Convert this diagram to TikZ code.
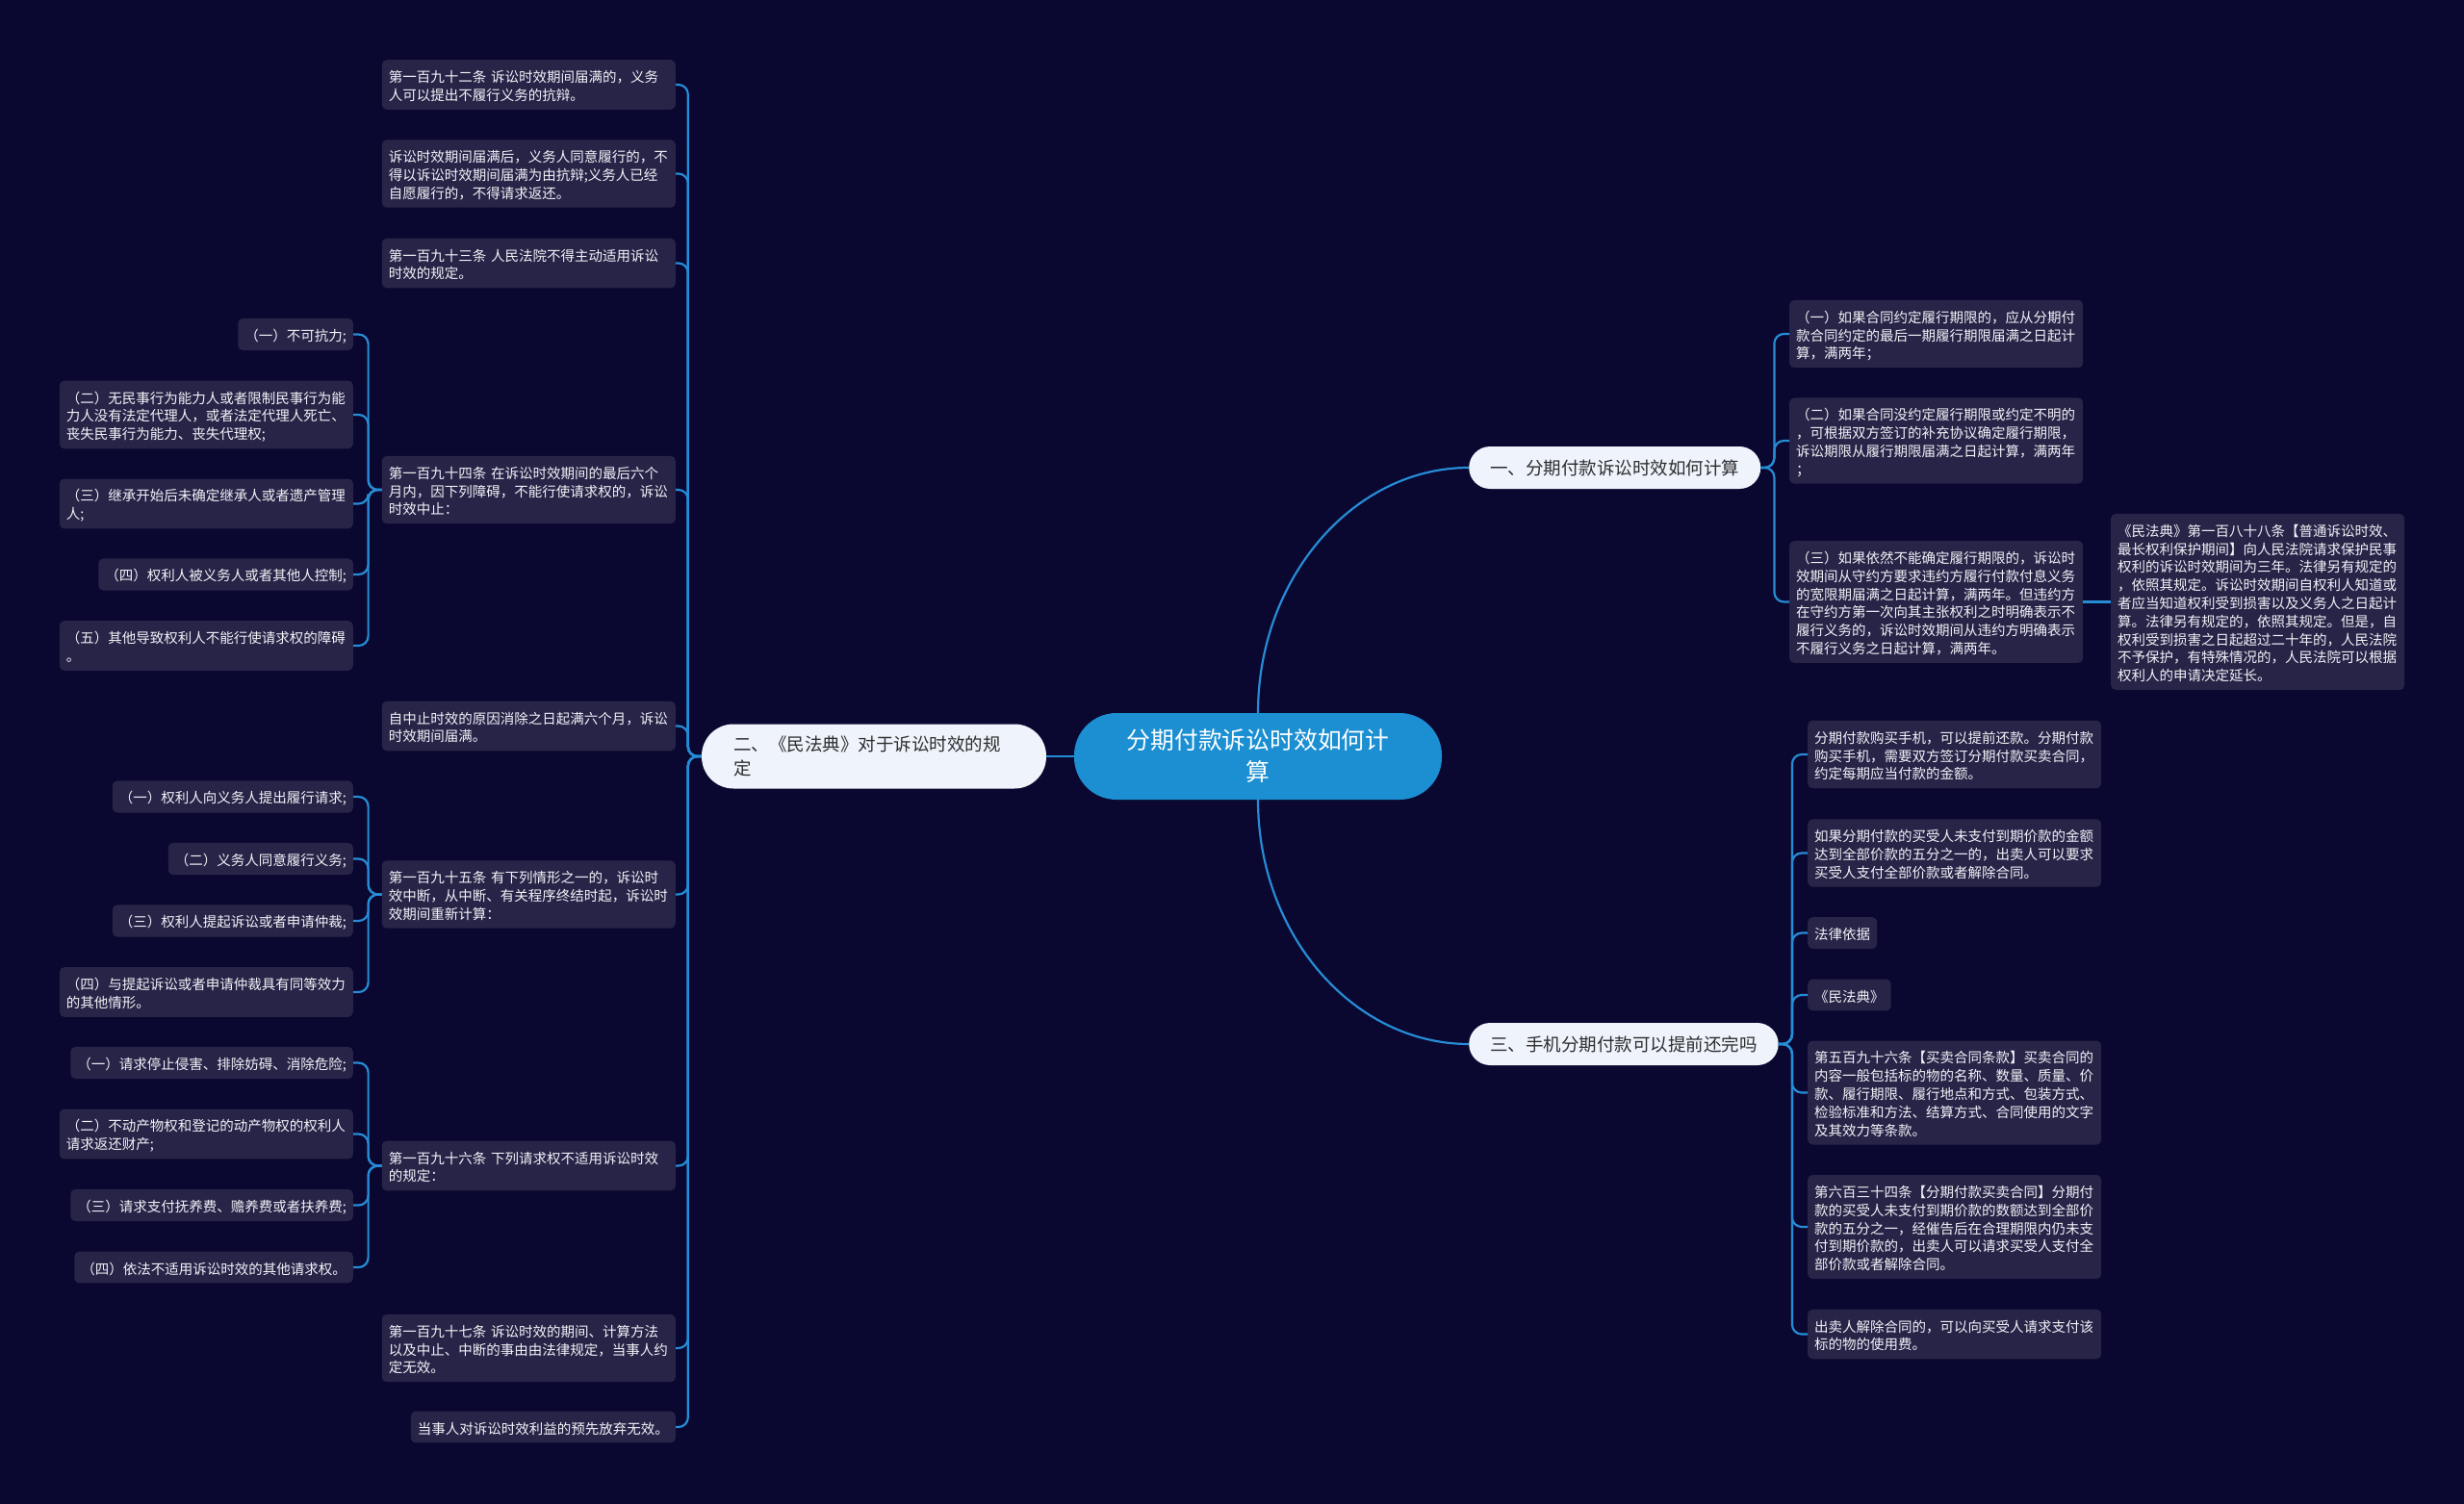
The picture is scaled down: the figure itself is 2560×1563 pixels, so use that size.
\documentclass[tikz,border=0pt]{standalone}
\usepackage{fontspec}
\setmainfont{Noto Sans CJK SC}
\definecolor{bgc}{HTML}{0A0830}
\definecolor{leafc}{HTML}{282448}
\definecolor{leaftext}{HTML}{F2F2F7}
\definecolor{linec}{HTML}{268CD6}
\definecolor{rootc}{HTML}{1B8FD2}
\definecolor{lvlc}{HTML}{EEF3FC}
\definecolor{lvltext}{HTML}{2E2E2E}
\newcommand\mytopstrut{\rule{0pt}{16.4pt}}
\newcommand\mybotstrut{\rule[-2.4pt]{0pt}{2.4pt}}
\begin{document}
\begin{tikzpicture}[x=1pt,y=-1pt,
  conn/.style={draw=linec, line width=2.2pt},
  brk/.style={conn, rounded corners=10pt},
  leaf/.style={fill=leafc, rounded corners=5pt, text=leaftext,
    font=\fontsize{14.5}{18.8}\selectfont, align=left,
    inner xsep=7pt, inner ysep=7pt,
    execute at begin node=\mytopstrut, execute at end node=\mybotstrut},
  wide/.style={leaf, text width=291pt},
  rootnode/.style={fill=rootc, rounded corners=44pt, text=white,
    font=\fontsize{24.8}{33}\selectfont, align=center,
    minimum width=382pt, minimum height=90pt, inner sep=0pt},
  lvl/.style={fill=lvlc, text=lvltext, font=\fontsize{18.5}{25}\selectfont},
  lvlright/.style={lvl, rounded corners=22pt, minimum height=44pt, inner xsep=22pt, inner ysep=0pt},
  lvlleft/.style={lvl, rounded corners=33pt, minimum height=67pt, inner xsep=33pt, inner ysep=0pt, text width=292pt, align=left}
]
\fill[bgc] (0,0) rectangle (2560,1563);
\useasboundingbox (0,0) rectangle (2560,1563);

% root and first level
\node[rootnode] (c) at (1307,786) {分期付款诉讼时效如何计\\算};
\node[lvlleft] (L) at (908,786) {二、《民法典》对于诉讼时效的规\\定};
\node[lvlright, anchor=west] (R1) at (1526,486) {一、分期付款诉讼时效如何计算};
\node[lvlright, anchor=west] (R3) at (1526,1085) {三、手机分期付款可以提前还完吗};

% left level 2
\node[wide, anchor=east] (a1) at (702,88) {第一百九十二条 诉讼时效期间届满的，义务\\人可以提出不履行义务的抗辩。};
\node[wide, anchor=east] (a2) at (702,180.5) {诉讼时效期间届满后，义务人同意履行的，不\\得以诉讼时效期间届满为由抗辩;义务人已经\\自愿履行的，不得请求返还。};
\node[wide, anchor=east] (a3) at (702,273.5) {第一百九十三条 人民法院不得主动适用诉讼\\时效的规定。};
\node[wide, anchor=east] (a4) at (702,509) {第一百九十四条 在诉讼时效期间的最后六个\\月内，因下列障碍，不能行使请求权的，诉讼\\时效中止：};
\node[wide, anchor=east] (a5) at (702,754.5) {自中止时效的原因消除之日起满六个月，诉讼\\时效期间届满。};
\node[wide, anchor=east] (a6) at (702,929.5) {第一百九十五条 有下列情形之一的，诉讼时\\效中断，从中断、有关程序终结时起，诉讼时\\效期间重新计算：};
\node[wide, anchor=east] (a7) at (702,1211.5) {第一百九十六条 下列请求权不适用诉讼时效\\的规定：};
\node[wide, anchor=east] (a8) at (702,1401) {第一百九十七条 诉讼时效的期间、计算方法\\以及中止、中断的事由由法律规定，当事人约\\定无效。};
\node[leaf, anchor=east] (a9) at (702,1483) {当事人对诉讼时效利益的预先放弃无效。};

% children of a4
\node[leaf, anchor=east] (b1) at (367,347.5) {（一）不可抗力;};
\node[wide, anchor=east] (b2) at (367,431) {（二）无民事行为能力人或者限制民事行为能\\力人没有法定代理人，或者法定代理人死亡、\\丧失民事行为能力、丧失代理权;};
\node[wide, anchor=east] (b3) at (367,523.5) {（三）继承开始后未确定继承人或者遗产管理\\人;};
\node[leaf, anchor=east] (b4) at (367,597) {（四）权利人被义务人或者其他人控制;};
\node[wide, anchor=east] (b5) at (367,671) {（五）其他导致权利人不能行使请求权的障碍\\。};

% children of a6
\node[leaf, anchor=east] (d1) at (367,828) {（一）权利人向义务人提出履行请求;};
\node[leaf, anchor=east] (d2) at (367,892.5) {（二）义务人同意履行义务;};
\node[leaf, anchor=east] (d3) at (367,957) {（三）权利人提起诉讼或者申请仲裁;};
\node[wide, anchor=east] (d4) at (367,1031) {（四）与提起诉讼或者申请仲裁具有同等效力\\的其他情形。};

% children of a7
\node[leaf, anchor=east] (e1) at (367,1104.5) {（一）请求停止侵害、排除妨碍、消除危险;};
\node[wide, anchor=east] (e2) at (367,1178.5) {（二）不动产物权和登记的动产物权的权利人\\请求返还财产;};
\node[leaf, anchor=east] (e3) at (367,1252.5) {（三）请求支付抚养费、赡养费或者扶养费;};
\node[leaf, anchor=east] (e4) at (367,1317) {（四）依法不适用诉讼时效的其他请求权。};

% right top children
\node[wide, anchor=west] (f1) at (1859,347) {（一）如果合同约定履行期限的，应从分期付\\款合同约定的最后一期履行期限届满之日起计\\算，满两年；};
\node[wide, anchor=west] (f2) at (1859,458) {（二）如果合同没约定履行期限或约定不明的\\，可根据双方签订的补充协议确定履行期限，\\诉讼期限从履行期限届满之日起计算，满两年\\；};
\node[wide, anchor=west] (f3) at (1859,625.5) {（三）如果依然不能确定履行期限的，诉讼时\\效期间从守约方要求违约方履行付款付息义务\\的宽限期届满之日起计算，满两年。但违约方\\在守约方第一次向其主张权利之时明确表示不\\履行义务的，诉讼时效期间从违约方明确表示\\不履行义务之日起计算，满两年。};
\node[wide, anchor=west] (g1) at (2193,625.5) {《民法典》第一百八十八条【普通诉讼时效、\\最长权利保护期间】向人民法院请求保护民事\\权利的诉讼时效期间为三年。法律另有规定的\\，依照其规定。诉讼时效期间自权利人知道或\\者应当知道权利受到损害以及义务人之日起计\\算。法律另有规定的，依照其规定。但是，自\\权利受到损害之日起超过二十年的，人民法院\\不予保护，有特殊情况的，人民法院可以根据\\权利人的申请决定延长。};

% right bottom children
\node[wide, anchor=west] (h1) at (1878,784) {分期付款购买手机，可以提前还款。分期付款\\购买手机，需要双方签订分期付款买卖合同，\\约定每期应当付款的金额。};
\node[wide, anchor=west] (h2) at (1878,886.5) {如果分期付款的买受人未支付到期价款的金额\\达到全部价款的五分之一的，出卖人可以要求\\买受人支付全部价款或者解除合同。};
\node[leaf, anchor=west] (h3) at (1878,969.5) {法律依据};
\node[leaf, anchor=west] (h4) at (1878,1034) {《民法典》};
\node[wide, anchor=west] (h5) at (1878,1135.5) {第五百九十六条【买卖合同条款】买卖合同的\\内容一般包括标的物的名称、数量、质量、价\\款、履行期限、履行地点和方式、包装方式、\\检验标准和方法、结算方式、合同使用的文字\\及其效力等条款。};
\node[wide, anchor=west] (h6) at (1878,1275) {第六百三十四条【分期付款买卖合同】分期付\\款的买受人未支付到期价款的数额达到全部价\\款的五分之一，经催告后在合理期限内仍未支\\付到期价款的，出卖人可以请求买受人支付全\\部价款或者解除合同。};
\node[wide, anchor=west] (h7) at (1878,1386.5) {出卖人解除合同的，可以向买受人请求支付该\\标的物的使用费。};

% connectors
\draw[conn] (c.west) -- (L.east);
\draw[conn] (c.north) .. controls +(0,-140) and +(-120,0) .. (R1.west);
\draw[conn] (c.south) .. controls +(0,140) and +(-120,0) .. (R3.west);
\foreach \n in {a1,a2,a3,a4,a5,a6,a7,a8,a9}
  \draw[brk] (L.west) -- ++(-14,0) |- (\n.east);
\foreach \n in {b1,b2,b3,b4,b5}
  \draw[brk] (a4.west) -- ++(-14,0) |- (\n.east);
\foreach \n in {d1,d2,d3,d4}
  \draw[brk] (a6.west) -- ++(-14,0) |- (\n.east);
\foreach \n in {e1,e2,e3,e4}
  \draw[brk] (a7.west) -- ++(-14,0) |- (\n.east);
\foreach \n in {f1,f2,f3}
  \draw[brk] (R1.east) -- ++(14,0) |- (\n.west);
\draw[conn] (f3.east) -- (g1.west);
\foreach \n in {h1,h2,h3,h4,h5,h6,h7}
  \draw[brk] (R3.east) -- ++(14,0) |- (\n.west);
\end{tikzpicture}
\end{document}
